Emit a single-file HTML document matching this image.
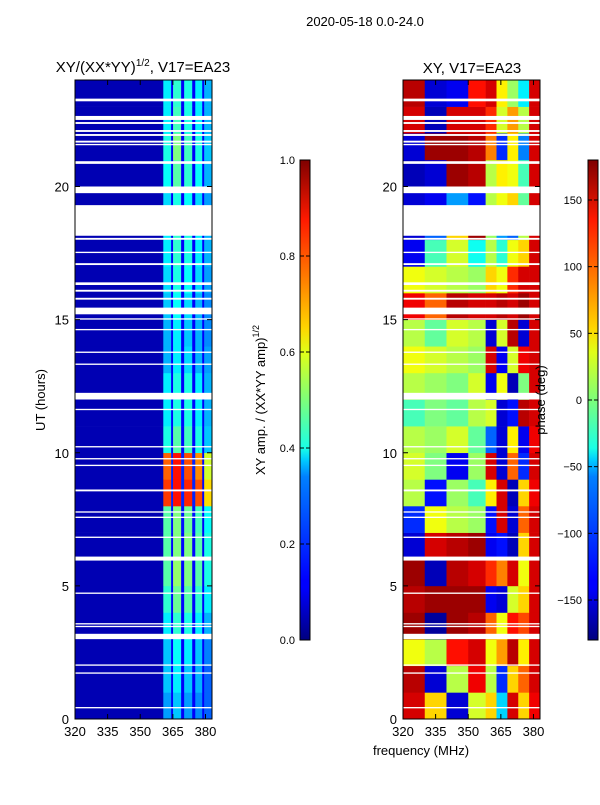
<!DOCTYPE html>
<html><head><meta charset="utf-8">
<style>
html,body{margin:0;padding:0;background:#fff;}
svg text{font-family:"Liberation Sans","DejaVu Sans",sans-serif;fill:#000;}
</style></head>
<body>
<svg id="fig" width="600" height="800" viewBox="0 0 600 800" xmlns="http://www.w3.org/2000/svg">
<defs>
<linearGradient id="jet" x1="0" y1="1" x2="0" y2="0">
<stop offset="0" stop-color="#00007f"/><stop offset="0.11" stop-color="#0000ff"/>
<stop offset="0.125" stop-color="#0000ff"/><stop offset="0.34" stop-color="#0080ff"/>
<stop offset="0.375" stop-color="#00ccff"/><stop offset="0.4" stop-color="#1affe6"/>
<stop offset="0.5" stop-color="#7dff7a"/><stop offset="0.6" stop-color="#e0ff17"/>
<stop offset="0.65" stop-color="#ffd500"/><stop offset="0.75" stop-color="#ff8000"/>
<stop offset="0.875" stop-color="#ff1a00"/><stop offset="1" stop-color="#7f0000"/>
</linearGradient>
</defs>
<text x="365" y="26" font-size="13" text-anchor="middle">2020-05-18 0.0-24.0</text>
<text x="143" y="72" font-size="15" text-anchor="middle">XY/(XX*YY)<tspan font-size="10" dy="-6">1/2</tspan><tspan dy="6">, V17=EA23</tspan></text>
<text x="472" y="73" font-size="15" text-anchor="middle">XY, V17=EA23</text>
<g id="ampPanel"></g>
<g id="phasePanel"></g>
<g id="axes"></g>
<text transform="translate(45,400) rotate(-90)" font-size="13" text-anchor="middle">UT (hours)</text>
<text x="421" y="755" font-size="13" text-anchor="middle">frequency (MHz)</text>
<rect x="300" y="160" width="10" height="480" fill="url(#jet)" stroke="#000" stroke-width="1"/>
<rect x="588" y="160" width="10" height="480" fill="url(#jet)" stroke="#000" stroke-width="1"/>
<text transform="translate(265,400) rotate(-90)" font-size="13" text-anchor="middle">XY amp. / (XX*YY amp)<tspan font-size="9" dy="-6">1/2</tspan></text>
<text transform="translate(545,400) rotate(-90)" font-size="13" text-anchor="middle">phase (deg)</text>
<g id="cbticks"></g>
</svg>
<script>
// ---- data ----
const ampFreqEdges = [320,360.6,364.2,365.1,368.8,370.2,373.9,375.3,378.5,379.4,383];
// hourly amplitude per band (row 0 = hour 0)
const ampHours = [
[0.05,0.28,0.12,0.32,0.12,0.28,0.12,0.26,0.12,0.22],
[0.05,0.32,0.12,0.36,0.12,0.32,0.12,0.30,0.12,0.22],
[0.05,0.32,0.12,0.38,0.12,0.36,0.12,0.32,0.12,0.25],
[0.05,0.36,0.12,0.42,0.12,0.40,0.12,0.36,0.12,0.30],
[0.05,0.42,0.13,0.48,0.13,0.46,0.13,0.42,0.12,0.36],
[0.05,0.46,0.13,0.52,0.13,0.50,0.13,0.46,0.12,0.40],
[0.05,0.46,0.13,0.50,0.13,0.50,0.13,0.46,0.12,0.40],
[0.05,0.46,0.14,0.50,0.14,0.48,0.14,0.44,0.12,0.38],
[0.05,0.82,0.16,0.86,0.16,0.84,0.16,0.80,0.13,0.66],
[0.05,0.78,0.16,0.86,0.16,0.80,0.16,0.74,0.13,0.58],
[0.05,0.40,0.13,0.46,0.13,0.44,0.13,0.40,0.12,0.32],
[0.05,0.36,0.13,0.40,0.13,0.40,0.13,0.36,0.12,0.30],
[0.05,0.36,0.12,0.40,0.12,0.40,0.12,0.36,0.12,0.30],
[0.05,0.30,0.12,0.36,0.12,0.34,0.12,0.30,0.12,0.28],
[0.05,0.30,0.12,0.36,0.12,0.32,0.12,0.30,0.12,0.26],
[0.05,0.32,0.12,0.38,0.12,0.34,0.12,0.30,0.12,0.26],
[0.05,0.34,0.12,0.40,0.12,0.38,0.12,0.34,0.12,0.28],
[0.05,0.36,0.12,0.42,0.12,0.40,0.12,0.36,0.12,0.30],
[0.05,0.36,0.12,0.42,0.12,0.40,0.12,0.36,0.12,0.30],
[0.05,0.34,0.12,0.40,0.12,0.38,0.12,0.34,0.12,0.28],
[0.05,0.38,0.12,0.46,0.12,0.42,0.12,0.38,0.12,0.30],
[0.05,0.40,0.12,0.50,0.12,0.44,0.12,0.40,0.12,0.32],
[0.05,0.36,0.12,0.44,0.12,0.40,0.12,0.36,0.12,0.30],
[0.05,0.36,0.12,0.42,0.12,0.40,0.12,0.36,0.12,0.30]
];
const phaseFreqEdges = [320,330,340,350,358,363,368,373,378,383];
const phaseHours = [
[150,60,-150,30,60,-60,150,60,140],
[160,-150,20,140,20,-120,60,100,150],
[40,20,130,150,40,80,160,50,150],
[170,-170,170,160,100,40,130,110,150],
[160,170,170,170,-140,-150,30,60,150],
[170,-160,160,150,120,90,150,40,150],
[-150,150,160,170,-140,-130,-160,60,150],
[-120,40,20,10,-130,150,-150,100,150],
[20,-130,10,-20,50,150,-160,60,140],
[30,0,-140,10,150,-150,100,-120,150],
[20,10,30,-10,-100,-150,50,-140,140],
[-20,0,-10,20,30,-150,-130,160,150],
[20,10,0,30,-140,40,-160,0,150],
[40,30,20,10,150,-140,30,140,150],
[20,-10,30,20,-150,30,160,-150,150],
[140,100,160,150,150,160,150,170,150],
[40,30,20,10,60,40,120,150,150],
[-140,-20,30,-40,20,-30,40,60,150],
[-150,-100,60,170,10,-80,-100,20,150],
[-150,-140,-80,-130,20,40,60,-10,150],
[-160,-150,170,160,20,50,40,-20,150],
[-150,170,170,160,90,-120,50,-90,150],
[150,-160,150,150,120,30,80,20,150],
[160,-150,-140,130,150,50,10,-50,150]
];
const flaggedHours = [[23.2,23.3],[22.5,22.65],[22.35,22.42],[22.05,22.12],[21.9,21.97],[21.65,21.72],[21.55,21.6],[20.85,20.95],[19.75,20.0],[18.15,19.3],[18.0,18.07],[17.5,17.55],[17.05,17.12],[16.3,16.4],[16.05,16.12],[15.75,15.82],[15.2,15.45],[15.0,15.05],[14.6,14.65],[13.75,13.8],[13.3,13.35],[12.0,12.25],[11.6,11.65],[10.2,10.25],[9.75,9.8],[9.5,9.55],[8.55,8.62],[7.75,7.8],[7.55,7.6],[6.8,6.85],[5.95,6.1],[4.7,4.75],[3.55,3.6],[3.45,3.5],[3.0,3.2],[2.0,2.05],[1.7,1.75],[0.4,0.45]];
const xTicks = [320,335,350,365,380];
const yTicks = [0,5,10,15,20];
const ampCbTicks = ["0.0","0.2","0.4","0.6","0.8","1.0"];
const phaseCbTicks = [-150,-100,-50,0,50,100,150];

// ---- scales ----
const NS="http://www.w3.org/2000/svg";
const TOP=80,BOT=719,FMIN=320,FMAX=383;
function yS(h){return BOT-(h/24)*(BOT-TOP);}
function xS(f,x0){return x0+(f-FMIN)/(FMAX-FMIN)*137;}
function jet(t){t=Math.max(0,Math.min(1,t));
 const c=v=>Math.round(255*Math.max(0,Math.min(1,1.5-Math.abs(v))));
 return `rgb(${c(4*t-3)},${c(4*t-2)},${c(4*t-1)})`;}
function mk(tag,attrs,parent){const e=document.createElementNS(NS,tag);for(const k in attrs)e.setAttribute(k,attrs[k]);parent.appendChild(e);return e;}

function drawHeat(g,x0,edges,rows,norm){
 rows.forEach((row,h)=>{row.forEach((v,j)=>{
  const x1=xS(edges[j],x0),x2=xS(edges[j+1],x0);
  const r=mk('rect',{x:x1,y:yS(h+1),width:x2-x1+0.3,height:yS(h)-yS(h+1)+0.3,fill:jet(norm(v))},g);
  
  
 });});
 flaggedHours.forEach(f=>{
  const r=mk('rect',{x:x0,y:yS(f[1]),width:137,height:Math.max(1.2,yS(f[0])-yS(f[1])),fill:'#fff'},g);
  
  
 });
}
drawHeat(document.getElementById('ampPanel'),75,ampFreqEdges,ampHours,v=>v);
drawHeat(document.getElementById('phasePanel'),403,phaseFreqEdges,phaseHours,v=>(v+180)/360);

const ax=document.getElementById('axes');
[75,403].forEach((x0,i)=>{
 const fr=mk('rect',{x:x0,y:TOP,width:137,height:BOT-TOP,fill:'none',stroke:'#000','stroke-width':1},ax);
 
 
 xTicks.forEach(f=>{const x=xS(f,x0);
  mk('line',{x1:x,x2:x,y1:BOT,y2:BOT-5,stroke:'#000'},ax);
  mk('line',{x1:x,x2:x,y1:TOP,y2:TOP+5,stroke:'#000'},ax);
  const t=mk('text',{x:x,y:BOT+17,'font-size':13,'text-anchor':'middle'},ax);t.textContent=f;
  
  
 });
 yTicks.forEach(h=>{const y=yS(h);
  mk('line',{x1:x0,x2:x0+5,y1:y,y2:y,stroke:'#000'},ax);
  mk('line',{x1:x0+137,x2:x0+132,y1:y,y2:y,stroke:'#000'},ax);
  const t=mk('text',{x:x0-6,y:y+5,'font-size':13,'text-anchor':'end'},ax);t.textContent=h;
  
  
 });
});
const cb=document.getElementById('cbticks');
ampCbTicks.forEach((s,i)=>{const y=640-i*96;
 mk('line',{x1:300,x2:304,y1:y,y2:y,stroke:'#000'},cb);mk('line',{x1:310,x2:306,y1:y,y2:y,stroke:'#000'},cb);
 const t=mk('text',{x:295,y:y+4,'font-size':11,'text-anchor':'end'},cb);t.textContent=s;
 
 
});
phaseCbTicks.forEach(v=>{const y=640-(v+180)/360*480;
 mk('line',{x1:588,x2:592,y1:y,y2:y,stroke:'#000'},cb);mk('line',{x1:598,x2:594,y1:y,y2:y,stroke:'#000'},cb);
 const t=mk('text',{x:582,y:y+4,'font-size':11,'text-anchor':'end'},cb);t.textContent=v<0?'\u2212'+(-v):String(v);
 
 
});
</script>
</body></html>
